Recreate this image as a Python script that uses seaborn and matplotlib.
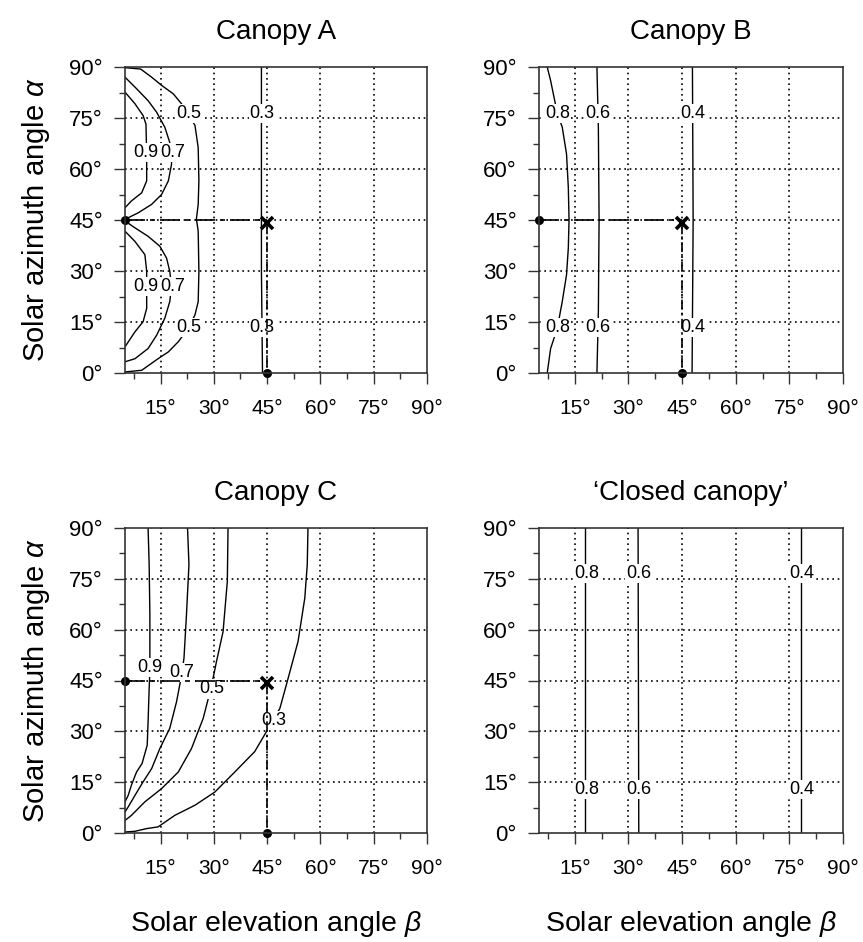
import numpy as np
import pandas as pd
import matplotlib
matplotlib.use("Agg")
import matplotlib.pyplot as plt
from matplotlib.ticker import FixedLocator
import seaborn as sns

# ---------------------------------------------------------------
# Contour lines of relative irradiance, traced as (beta, alpha) pairs
# beta = solar elevation (deg), alpha = solar azimuth (deg)
# ---------------------------------------------------------------
# Canopy A
A_09_UPPER = [(5.0, 82.6), (7.8, 79.2), (10.1, 75.7), (10.9, 73.2), (11.1, 64.4),
              (11.1, 56.5), (9.7, 53.0), (6.8, 50.6), (5.0, 48.6)]
A_09_LOWER = [(5.0, 41.7), (7.8, 38.7), (10.6, 34.8), (11.1, 29.9), (11.1, 19.0),
              (10.1, 15.1), (7.8, 12.1), (5.0, 7.7)]
A_07_UPPER = [(5.0, 87.0), (7.8, 84.1), (11.5, 80.1), (13.9, 76.7), (16.2, 72.3),
              (17.6, 67.8), (18.1, 64.9), (18.1, 61.4), (17.2, 56.5), (15.3, 52.5),
              (12.5, 49.6), (8.7, 47.1), (5.0, 45.2)]
A_07_LOWER = [(5.0, 44.7), (7.8, 42.7), (11.5, 40.2), (14.8, 37.3), (16.7, 33.8),
              (17.6, 29.9), (18.1, 25.4), (17.6, 21.0), (16.2, 16.1), (13.9, 11.1),
              (11.5, 7.2), (7.8, 4.2), (5.0, 3.3)]
A_05 = [(5.0, 89.8), (9.4, 89.4), (12.5, 87.0), (15.3, 84.6), (18.6, 82.1),
        (20.9, 79.2), (22.8, 76.2), (24.7, 72.8), (25.6, 66.3), (25.8, 56.5),
        (25.6, 49.6), (25.1, 45.3), (25.6, 41.7), (25.8, 29.9), (25.6, 21.0),
        (24.7, 17.1), (22.8, 13.1), (20.0, 9.2), (17.2, 6.2), (14.3, 4.2),
        (9.7, 0.8), (5.0, 0.3)]
A_03 = [(43.4, 90.0), (43.4, 60.0), (43.4, 30.0), (43.6, 10.0), (43.7, 0.0)]

# Canopy B
B_08 = [(7.3, 90.0), (8.25, 86.0), (9.2, 81.1), (10.1, 76.4), (11.5, 72.3),
        (12.7, 64.4), (13.2, 54.5), (13.4, 45.1), (13.2, 36.8), (12.7, 28.9),
        (11.5, 21.0), (10.1, 13.1), (8.25, 7.2), (7.3, 0.0)]
B_06 = [(21.2, 90.0), (21.6, 72.0), (21.8, 45.0), (21.6, 18.0), (21.2, 0.0)]
B_04 = [(47.9, 90.0), (48.1, 45.0), (47.8, 0.0)]

# Canopy C
C_09 = [(11.5, 90.0), (11.8, 79.2), (12.0, 64.4), (12.0, 50.6), (11.9, 45.0),
        (11.8, 42.7), (11.5, 32.8), (11.25, 25.9), (9.8, 20.5), (8.25, 18.0),
        (6.8, 14.1), (5.9, 11.1), (5.0, 9.2)]
C_07 = [(22.6, 90.0), (23.0, 79.2), (22.3, 64.4), (21.6, 51.6), (20.9, 46.4),
        (19.5, 38.7), (17.6, 30.9), (14.8, 24.9), (12.5, 19.0), (10.1, 15.1),
        (7.8, 11.1), (5.9, 7.7), (5.0, 6.2)]
C_05 = [(34.0, 90.0), (33.8, 74.2), (32.6, 59.4), (30.75, 50.6), (29.3, 43.2),
        (27.0, 33.8), (23.7, 24.9), (20.0, 18.0), (15.3, 13.1), (10.6, 9.2),
        (6.8, 5.2), (5.0, 3.7)]
C_03 = [(56.5, 90.0), (56.3, 79.2), (55.6, 69.3), (53.7, 56.5), (50.9, 45.6),
        (48.6, 36.8), (46.7, 33.3), (44.8, 29.9), (41.5, 24.0), (35.9, 18.0),
        (30.3, 12.1), (24.7, 8.2), (19.0, 5.2), (14.3, 1.8), (11.1, 1.3),
        (7.8, 0.5), (5.0, 0.3)]

# 'Closed canopy'
D_08 = [(18.0, 90.0), (18.0, 0.0)]
D_06 = [(32.7, 90.0), (32.9, 0.0)]
D_04 = [(78.2, 90.0), (78.2, 0.0)]

# Contour levels with their label anchor points (beta, alpha)
A_LEVELS = [(0.9, A_09_UPPER, [(10.9, 64.9)]), (0.9, A_09_LOWER, [(10.9, 25.4)]),
            (0.7, A_07_UPPER, [(18.3, 64.9)]), (0.7, A_07_LOWER, [(18.3, 25.4)]),
            (0.5, A_05, [(22.9, 76.3), (22.9, 13.4)]),
            (0.3, A_03, [(43.6, 76.3), (43.6, 13.4)])]
B_LEVELS = [(0.8, B_08, [(10.2, 76.3), (10.2, 13.4)]),
            (0.6, B_06, [(21.5, 76.3), (21.5, 13.4)]),
            (0.4, B_04, [(48.1, 76.3), (48.1, 13.4)])]
C_LEVELS = [(0.9, C_09, [(11.9, 48.9)]), (0.7, C_07, [(21.0, 47.3)]),
            (0.5, C_05, [(29.3, 42.5)]), (0.3, C_03, [(46.8, 33.3)])]
D_LEVELS = [(0.8, D_08, [(18.3, 76.6), (18.3, 12.8)]),
            (0.6, D_06, [(33.0, 76.6), (33.0, 12.8)]),
            (0.4, D_04, [(78.4, 76.6), (78.4, 12.8)])]

# Reference sun position and its projections (beta, alpha)
SUN_POS = (45.0, 44.2)
START_POS = (5.0, 45.0)
FOOT_POS = (45.0, 0.0)
SHOW_REF = [True, True, True, False]

TITLES = ["Canopy A", "Canopy B", "Canopy C", "\u2018Closed canopy\u2019"]
X_TICKS = [15, 30, 45, 60, 75, 90]
Y_TICKS = [0, 15, 30, 45, 60, 75, 90]
MINOR_TICKS = [7.5, 22.5, 37.5, 52.5, 67.5, 82.5]
X_LABEL = r"Solar elevation angle $\beta$"
Y_LABEL = r"Solar azimuth angle $\alpha$"

# ---------------------------------------------------------------
sns.set_theme(style="ticks")
plt.rcParams["font.family"] = ["Liberation Sans", "DejaVu Sans"]
plt.rcParams["mathtext.fontset"] = "custom"
plt.rcParams["mathtext.it"] = "Liberation Sans:italic"
plt.rcParams["mathtext.rm"] = "Liberation Sans"

SPINE = "#333333"

fig = plt.figure(figsize=(8.63, 9.42), dpi=100)
fig.patch.set_facecolor("white")
rects = [
    [125 / 863, 569 / 942, 302 / 863, 306 / 942],
    [539 / 863, 569 / 942, 304 / 863, 306 / 942],
    [125 / 863, 109 / 942, 302 / 863, 305 / 942],
    [539 / 863, 109 / 942, 304 / 863, 305 / 942],
]
panels = [A_LEVELS, B_LEVELS, C_LEVELS, D_LEVELS]

for idx, (rect, levels) in enumerate(zip(rects, panels)):
    ax = fig.add_axes(rect)
    ax.set_facecolor("white")
    ax.set_xlim(5, 90)
    ax.set_ylim(0, 90)

    # dotted grid at 15 deg steps
    for g in [15, 30, 45, 60, 75]:
        ax.axvline(g, color="black", lw=1.2, ls=(0, (1, 2.2)), zorder=1)
        ax.axhline(g, color="black", lw=1.2, ls=(0, (1, 2.2)), zorder=1)

    # contour lines with inline labels
    for level, pts, label_pts in levels:
        df = pd.DataFrame(pts, columns=["beta", "alpha"])
        sns.lineplot(data=df, x="beta", y="alpha", sort=False, estimator=None,
                     color="black", lw=1.0, ax=ax, zorder=2)
        for (lb, la) in label_pts:
            ax.text(lb, la, f"{level:.1f}", fontsize=13, ha="center", va="center",
                    color="black", zorder=3,
                    bbox=dict(boxstyle="square,pad=0.06", fc="white", ec="none"))

    # reference sun position with its projections on both axes
    if SHOW_REF[idx]:
        ax.plot([START_POS[0], SUN_POS[0]], [START_POS[1], START_POS[1]], color="black",
                lw=1.2, ls=(0, (12, 3, 3, 3)), zorder=4, clip_on=False)
        ax.plot([SUN_POS[0], FOOT_POS[0]], [SUN_POS[1], FOOT_POS[1]], color="black",
                lw=1.2, ls=(0, (6, 2, 1.5, 2)), zorder=4, clip_on=False)
        ax.plot(*SUN_POS, marker="x", ms=8, mew=2.6, color="black", zorder=5)
        ax.plot(*START_POS, marker="o", ms=5.5, color="black", zorder=5, clip_on=False)
        ax.plot(*FOOT_POS, marker="o", ms=5.5, color="black", zorder=5, clip_on=False)

    ax.xaxis.set_major_locator(FixedLocator(X_TICKS))
    ax.yaxis.set_major_locator(FixedLocator(Y_TICKS))
    ax.xaxis.set_minor_locator(FixedLocator(MINOR_TICKS))
    ax.yaxis.set_minor_locator(FixedLocator(MINOR_TICKS))
    ax.set_xticklabels([f"{t}\u00b0" for t in X_TICKS], fontsize=15)
    ax.set_yticklabels([f"{t}\u00b0" for t in Y_TICKS], fontsize=16)
    ax.tick_params(which="major", direction="out", length=8, width=1.0, color=SPINE,
                   labelcolor="black")
    ax.tick_params(which="minor", direction="out", length=4, width=1.0, color=SPINE)
    ax.tick_params(axis="x", which="major", pad=11)
    ax.tick_params(axis="y", which="major", pad=8)
    for sp in ax.spines.values():
        sp.set_visible(True)
        sp.set_color(SPINE)
        sp.set_linewidth(1.2)
        sp.set_zorder(6)

    ax.set_title(TITLES[idx], fontsize=20, pad=20, color="black")
    ax.set_xlabel(X_LABEL if idx >= 2 else "", fontsize=20.5, labelpad=22, color="black")
    ax.set_ylabel(Y_LABEL if idx % 2 == 0 else "", fontsize=21, labelpad=12, color="black")

fig.savefig("out.png", dpi=100, facecolor="white")
